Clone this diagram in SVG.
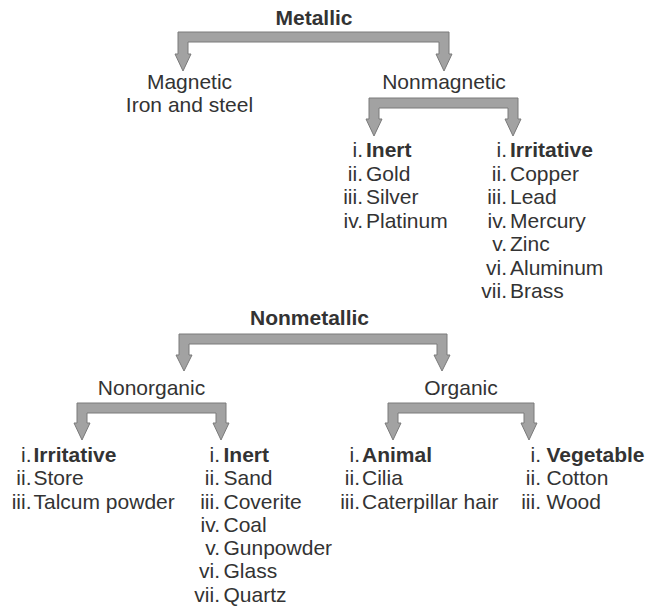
<svg xmlns="http://www.w3.org/2000/svg" width="648" height="608" viewBox="0 0 648 608">
<style>
text{font-family:"Liberation Sans",Arial,sans-serif;font-size:21px;fill:#333333}
.b{font-weight:bold}
.c{text-anchor:middle}
.n{text-anchor:end}
.arrow{fill:#a2a2a2;stroke:#7a7a7a;stroke-width:1;stroke-linejoin:miter}
</style>
<rect width="648" height="608" fill="#ffffff"/>
<g id="connectors">
<polygon class="arrow" points="178,32 449,32 449,54 452,54 444,71 436,54 439,54 439,42 188,42 188,54 191,54 183,71 175,54 178,54"/>
<polygon class="arrow" points="369,98 518,98 518,119 521,119 513,136 505,119 508,119 508,108 379,108 379,119 382,119 374,136 366,119 369,119"/>
<polygon class="arrow" points="179,334 447,334 447,355 450,355 442,371 434,355 437,355 437,344 189,344 189,355 192,355 184,371 176,355 179,355"/>
<polygon class="arrow" points="77,403 226,403 226,423 229,423 221,440 213,423 216,423 216,413 87,413 87,423 90,423 82,440 74,423 77,423"/>
<polygon class="arrow" points="388,403 534,403 534,423 537,423 529,440 521,423 524,423 524,413 398,413 398,423 401,423 393,440 385,423 388,423"/>
</g>
<g id="metallic"><text class="b c" x="314" y="25">Metallic</text></g>
<g id="magnetic"><text class="c" x="189.5" y="89">Magnetic</text><text class="c" x="189.5" y="112">Iron and steel</text></g>
<g id="nonmagnetic"><text class="c" x="444" y="89">Nonmagnetic</text></g>
<g id="nonmagnetic-inert">
<text class="n" x="363" y="157">i.</text><text class="b" x="366" y="157">Inert</text>
<text class="n" x="363" y="180.5">ii.</text><text x="366" y="180.5">Gold</text>
<text class="n" x="363" y="204">iii.</text><text x="366" y="204">Silver</text>
<text class="n" x="363" y="227.5">iv.</text><text x="366" y="227.5">Platinum</text>
</g>
<g id="nonmagnetic-irritative">
<text class="n" x="507" y="157">i.</text><text class="b" x="510" y="157">Irritative</text>
<text class="n" x="507" y="180.5">ii.</text><text x="510" y="180.5">Copper</text>
<text class="n" x="507" y="204">iii.</text><text x="510" y="204">Lead</text>
<text class="n" x="507" y="227.5">iv.</text><text x="510" y="227.5">Mercury</text>
<text class="n" x="507" y="251">v.</text><text x="510" y="251">Zinc</text>
<text class="n" x="507" y="274.5">vi.</text><text x="510" y="274.5">Aluminum</text>
<text class="n" x="507" y="298">vii.</text><text x="510" y="298">Brass</text>
</g>
<g id="nonmetallic"><text class="b c" x="309.5" y="325">Nonmetallic</text></g>
<g id="nonorganic"><text class="c" x="151.5" y="394.5">Nonorganic</text></g>
<g id="organic"><text class="c" x="461" y="395">Organic</text></g>
<g id="nonorganic-irritative">
<text class="n" x="31.5" y="461.5">i.</text><text class="b" x="33.5" y="461.5">Irritative</text>
<text class="n" x="31.5" y="485">ii.</text><text x="33.5" y="485">Store</text>
<text class="n" x="31.5" y="508.5">iii.</text><text x="33.5" y="508.5">Talcum powder</text>
</g>
<g id="nonorganic-inert">
<text class="n" x="220" y="461.5">i.</text><text class="b" x="223.5" y="461.5">Inert</text>
<text class="n" x="220" y="485">ii.</text><text x="223.5" y="485">Sand</text>
<text class="n" x="220" y="508.5">iii.</text><text x="223.5" y="508.5">Coverite</text>
<text class="n" x="220" y="531.8">iv.</text><text x="223.5" y="531.8">Coal</text>
<text class="n" x="220" y="555">v.</text><text x="223.5" y="555">Gunpowder</text>
<text class="n" x="220" y="578.4">vi.</text><text x="223.5" y="578.4">Glass</text>
<text class="n" x="220" y="601.7">vii.</text><text x="223.5" y="601.7">Quartz</text>
</g>
<g id="organic-animal">
<text class="n" x="360" y="461.5">i.</text><text class="b" x="362" y="461.5">Animal</text>
<text class="n" x="360" y="485">ii.</text><text x="362" y="485">Cilia</text>
<text class="n" x="360" y="508.5">iii.</text><text x="362" y="508.5">Caterpillar hair</text>
</g>
<g id="organic-vegetable">
<text class="n" x="541" y="461.5">i.</text><text class="b" x="546.5" y="461.5">Vegetable</text>
<text class="n" x="541" y="485">ii.</text><text x="546.5" y="485">Cotton</text>
<text class="n" x="541" y="508.5">iii.</text><text x="546.5" y="508.5">Wood</text>
</g>
</svg>
